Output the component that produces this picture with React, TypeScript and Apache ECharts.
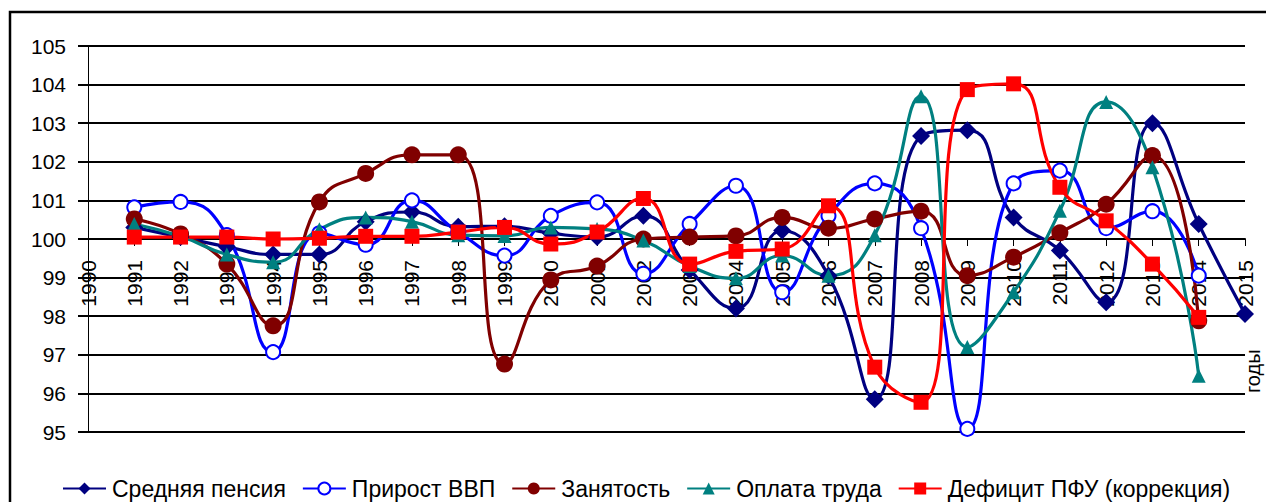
import React, { useEffect, useRef } from "react";
import * as echarts from "echarts";

const years = [
  "1990", "1991", "1992", "1993", "1994", "1995", "1996", "1997", "1998", "1999",
  "2000", "2001", "2002", "2003", "2004", "2005", "2006", "2007", "2008", "2009",
  "2010", "2011", "2012", "2013", "2014", "2015",
];

const yMin = 95;
const yMax = 105;
const yStep = 1;
const crossAt = 100;

const pension = [
  null, 100.3, 100.05, 99.8, 99.6, 99.6, 100.45, 100.7, 100.32, 100.33,
  100.15, 100.05, 100.6, 99.2, 98.2, 100.22, 99.05, 95.85, 102.67, 102.82,
  100.56, 99.7, 98.36, 103.0, 100.39, 98.06,
];

const gdp = [
  null, 100.82, 100.96, 100.1, 97.07, 100.15, 99.85, 101.0, 100.18, 99.57,
  100.6, 100.95, 99.1, 100.39, 101.38, 98.62, 100.6, 101.44, 100.28, 95.08,
  101.44, 101.77, 100.28, 100.72, 99.05, null,
];

const employment = [
  null, 100.52, 100.13, 99.35, 97.75, 100.96, 101.7, 102.18, 102.18, 96.76,
  98.94, 99.3, 100.0, 100.05, 100.08, 100.56, 100.28, 100.52, 100.72, 99.05,
  99.53, 100.16, 100.9, 102.16, 97.88, null,
];

const wages = [
  null, 100.39, 100.07, 99.6, 99.4, 100.25, 100.56, 100.45, 100.1, 100.08,
  100.3, 100.26, 99.96, 99.3, 98.98, 99.57, 99.05, 100.1, 103.7, 97.2,
  98.62, 100.73, 103.55, 101.86, 96.46, null,
];

const deficit = [
  null, 100.05, 100.05, 100.05, 100.0, 100.02, 100.07, 100.07, 100.18, 100.3,
  99.87, 100.18, 101.05, 99.35, 99.68, 99.74, 100.86, 96.68, 95.77, 103.87,
  104.02, 101.34, 100.47, 99.35, 97.97, null,
];

const FONT = 'Arial, "Liberation Sans", sans-serif';

const W = 1266;
const H = 502;
const GRID = { left: 88, right: 21, top: 46, bottom: 70 };
const gridH = H - GRID.top - GRID.bottom;
// move the category axis up from the grid bottom to the value where it crosses
const xAxisOffset = -gridH * ((crossAt - yMin) / (yMax - yMin));

export default function App() {
  const ref = useRef<HTMLDivElement>(null);

  useEffect(() => {
    if (!ref.current) return;
    const chart = echarts.init(ref.current, undefined, { renderer: "svg" });

    const mk = (
      name: string,
      data: (number | null)[],
      color: string,
      symbol: string,
      symbolSize: number,
      extraItem: any = {}
    ) => ({
      name,
      type: "line",
      data,
      smooth: 0.5,
      connectNulls: false,
      symbol,
      symbolSize,
      showAllSymbol: true,
      lineStyle: { color, width: 3.2 },
      itemStyle: { color, ...extraItem },
      emphasis: { disabled: true },
    });

    chart.setOption({
      animation: false,
      backgroundColor: "#fff",
      textStyle: { fontFamily: FONT },
      grid: { ...GRID, containLabel: false },
      xAxis: {
        type: "category",
        data: years,
        boundaryGap: false,
        position: "bottom",
        offset: xAxisOffset,
        axisLine: { onZero: false, lineStyle: { color: "#000", width: 2 } },
        axisTick: { show: true, length: 7, inside: false, lineStyle: { color: "#000", width: 1 } },
        axisLabel: {
          interval: 0,
          rotate: 90,
          margin: 21,
          fontSize: 21,
          color: "#000",
          fontFamily: FONT,
          hideOverlap: false,
        },
        splitLine: { show: false },
      },
      yAxis: {
        type: "value",
        min: yMin,
        max: yMax,
        interval: yStep,
        axisLine: { show: true, lineStyle: { color: "#000", width: 1 } },
        axisTick: { show: true, length: 10, lineStyle: { color: "#000", width: 2 } },
        axisLabel: {
          margin: 22,
          fontSize: 21,
          color: "#000",
          fontFamily: FONT,
        },
        splitLine: { show: true, lineStyle: { color: "#000", width: 2 } },
      },
      legend: {
        top: 472,
        left: 57,
        itemWidth: 43,
        itemHeight: 15,
        itemGap: 16,
        textStyle: { fontSize: 23, color: "#000", fontFamily: FONT, padding: [0, 0, 0, 1] },
        data: [
          "Средняя пенсия",
          "Прирост ВВП",
          "Занятость",
          "Оплата труда",
          "Дефицит ПФУ (коррекция)",
        ],
      },
      graphic: [
        {
          type: "rect",
          shape: { x: 10, y: 12, width: 1320, height: 620 },
          style: { fill: "none", stroke: "#000", lineWidth: 2.5 },
          silent: true,
        },
        {
          type: "text",
          x: 1243,
          y: 393,
          rotation: Math.PI / 2,
          style: {
            text: "годы",
            fontSize: 20,
            fontFamily: FONT,
            fill: "#000",
            textAlign: "left",
            textVerticalAlign: "top",
          },
        },
      ],
      series: [
        mk("Средняя пенсия", pension, "#000080", "diamond", 18),
        mk("Прирост ВВП", gdp, "#0000FF", "emptyCircle", 14, { borderWidth: 1.2 }),
        mk("Занятость", employment, "#800000", "circle", 17),
        mk("Оплата труда", wages, "#008080", "triangle", 14),
        mk("Дефицит ПФУ (коррекция)", deficit, "#FF0000", "rect", 15),
      ],
    });

    return () => chart.dispose();
  }, []);

  return (
    <div
      ref={ref}
      style={{ position: "fixed", left: 0, top: 0, width: W, height: H }}
    />
  );
}
